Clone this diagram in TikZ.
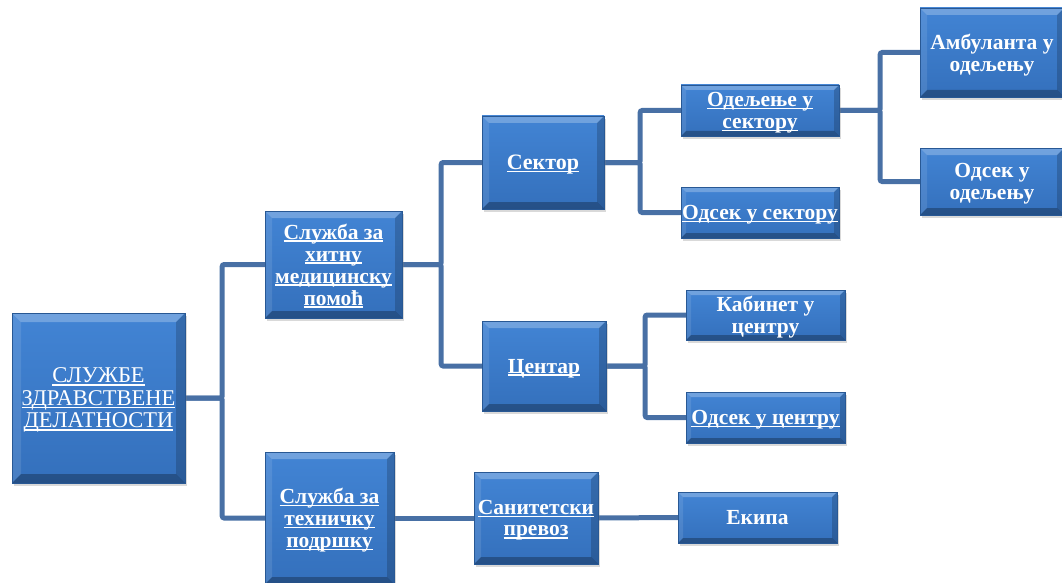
\documentclass[tikz,border=0pt]{standalone}
\usepackage{fontspec}
\newfontfamily\diagfont{Liberation Serif}
\usetikzlibrary{shadows}

\definecolor{boxtop}{RGB}{66,132,212}
\definecolor{boxbot}{RGB}{52,112,188}
\definecolor{boxedge}{RGB}{40,88,148}
\definecolor{linkblue}{RGB}{72,112,165}

%white underline at a fixed depth, like a word processor does it
\newsavebox\ulbox
\newcommand\ulin[1]{\sbox\ulbox{#1}\rlap{\rule[-2.6pt]{\wd\ulbox}{1.3pt}}\usebox\ulbox}

\tikzset{
  bevel/.style={path picture={
    \fill[white, opacity=.25] (path picture bounding box.north west) -- (path picture bounding box.north east)
      -- ([shift={(-#1,-#1)}]path picture bounding box.north east) -- ([shift={(#1,-#1)}]path picture bounding box.north west) -- cycle;
    \fill[white, opacity=.10] (path picture bounding box.north west) -- ([shift={(#1,-#1)}]path picture bounding box.north west)
      -- ([shift={(#1,#1)}]path picture bounding box.south west) -- (path picture bounding box.south west) -- cycle;
    \fill[black, opacity=.28] (path picture bounding box.south west) -- (path picture bounding box.south east)
      -- ([shift={(-#1,#1)}]path picture bounding box.south east) -- ([shift={(#1,#1)}]path picture bounding box.south west) -- cycle;
    \fill[black, opacity=.18] (path picture bounding box.north east) -- ([shift={(-#1,-#1)}]path picture bounding box.north east)
      -- ([shift={(-#1,#1)}]path picture bounding box.south east) -- (path picture bounding box.south east) -- cycle;
  }},
  unit/.style={rectangle, draw=boxedge, line width=0.4pt, top color=boxtop, bottom color=boxbot,
    text=white, align=center, inner sep=0pt, text depth=-4pt, font=\diagfont\bfseries\fontsize{21.5}{21.7}\selectfont,
    drop shadow={shadow xshift=2pt, shadow yshift=-3pt, opacity=.3}, bevel=7pt},
  link/.style={draw=linkblue, line width=5pt, rounded corners=2pt}
}

\begin{document}
\begin{tikzpicture}[x=1pt, y=-1pt]
  \useasboundingbox (0,0) rectangle (1062,583);
  %connectors first, boxes on top
  \path (98.5,398) node[minimum width=173, minimum height=170] (root) {}
    (333.5,264.5) node[minimum width=137, minimum height=107] (hitna) {}
    (329.5,518) node[minimum width=129, minimum height=132] (tehnika) {}
    (543,162.5) node[minimum width=122, minimum height=93] (sektor) {}
    (544,366) node[minimum width=124, minimum height=90] (centar) {}
    (536,518) node[minimum width=124, minimum height=92] (sanitet) {}
    (760,110.5) node[minimum width=158, minimum height=51] (odeljenje) {}
    (760,212.5) node[minimum width=158, minimum height=51] (odsekS) {}
    (765.5,315) node[minimum width=159, minimum height=50] (kabinet) {}
    (765.5,417.5) node[minimum width=159, minimum height=51] (odsekC) {}
    (757.5,517.5) node[minimum width=159, minimum height=51] (ekipa) {}
    (992,52.5) node[minimum width=144, minimum height=89] (ambulanta) {}
    (992,181.5) node[minimum width=144, minimum height=67] (odsekO) {};

  \draw[link] (root.east) -- ++(37,0) |- (hitna.west);
  \draw[link] (root.east) -- ++(37,0) |- (tehnika.west);
  \draw[link] (hitna.east) -- ++(39,0) |- (sektor.west);
  \draw[link] (hitna.east) -- ++(39,0) |- (centar.west);
  \draw[link] (sektor.east) -- ++(36,0) |- (odeljenje.west);
  \draw[link] (sektor.east) -- ++(36,0) |- (odsekS.west);
  \draw[link] (odeljenje.east) -- ++(41,0) |- (ambulanta.west);
  \draw[link] (odeljenje.east) -- ++(41,0) |- (odsekO.west);
  \draw[link] (centar.east) -- ++(39,0) |- (kabinet.west);
  \draw[link] (centar.east) -- ++(39,0) |- (odsekC.west);
  \draw[link] (tehnika.east) -- (sanitet.west);
  \draw[link] (sanitet.east) -- (ekipa.west);

  \node[unit, bevel=9pt, minimum width=173, minimum height=170, text depth=-1pt, font=\diagfont\fontsize{22.5}{22.5}\selectfont] at (root)
    {\ulin{СЛУЖБЕ}\\\ulin{ЗДРАВСТВЕНЕ}\\\ulin{ДЕЛАТНОСТИ}};
  \node[unit, minimum width=137, minimum height=107, font=\diagfont\bfseries\fontsize{21.5}{22}\selectfont] at (hitna)
    {\ulin{Служба за}\\\ulin{хитну}\\\ulin{медицинску}\\\ulin{помоћ}};
  \node[unit, minimum width=129, minimum height=132, font=\diagfont\bfseries\fontsize{21.5}{22}\selectfont] at (tehnika)
    {\ulin{Служба за}\\\ulin{техничку}\\\ulin{подршку}};
  \node[unit, minimum width=122, minimum height=93, font=\diagfont\bfseries\fontsize{22}{21.7}\selectfont] at (sektor) {\ulin{Сектор}};
  \node[unit, minimum width=124, minimum height=90] at (centar) {\ulin{Центар}};
  \node[unit, minimum width=124, minimum height=92] at (sanitet) {\ulin{Санитетски}\\\ulin{превоз}};
  \node[unit, bevel=5pt, minimum width=158, minimum height=51, text depth=-7pt] at (odeljenje) {\ulin{Одељење у}\\\ulin{сектору}};
  \node[unit, bevel=5pt, minimum width=158, minimum height=51] at (odsekS) {\ulin{Одсек у сектору}};
  \node[unit, bevel=5pt, minimum width=159, minimum height=50] at (kabinet) {Кабинет у\\центру};
  \node[unit, bevel=5pt, minimum width=159, minimum height=51] at (odsekC) {\ulin{Одсек у центру}};
  \node[unit, bevel=5pt, minimum width=159, minimum height=51] at (ekipa) {Екипа};
  \node[unit, minimum width=144, minimum height=89] at (ambulanta) {Амбуланта у\\одељењу};
  \node[unit, minimum width=144, minimum height=67] at (odsekO) {Одсек у\\одељењу};
\end{tikzpicture}
\end{document}
